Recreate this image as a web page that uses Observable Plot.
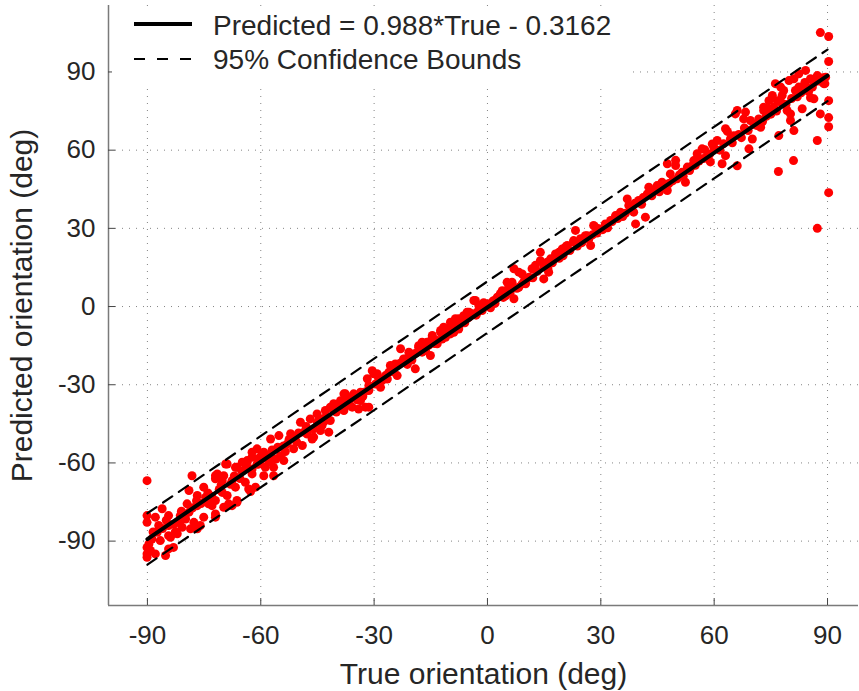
<!DOCTYPE html>
<html>
<head>
<meta charset="utf-8">
<script src="https://cdn.jsdelivr.net/npm/d3@7"></script>
<script src="https://cdn.jsdelivr.net/npm/@observablehq/plot@0.6"></script>
<style>
  html, body { margin: 0; padding: 0; background: #fff; }
  #wrap { position: relative; width: 859px; height: 691px; }
  #legend { position: absolute; left: 112px; top: 9px; }
</style>
</head>
<body>
<div id="wrap"></div>
<script>
// ---- data ----
const xTicks = [-90, -60, -30, 0, 30, 60, 90];
const yTicks = [-90, -60, -30, 0, 30, 60, 90];
const xDomain = [-100.3, 98.2];
const yDomain = [-114.7, 115.5];

const fitX = [-90, 90];
const fitY = [-89.24, 88.60];
const upperBound = [-79.3, 98.6];
const lowerBound = [-99.0, 78.8];

const legendLabels = ["Predicted = 0.988*True - 0.3162", "95% Confidence Bounds"];
const xLabel = "True orientation (deg)";
const yLabel = "Predicted orientation (deg)";

// [true orientation, predicted orientation]
const observations = [
[-90.1,-66.8],[-90.1,-80.2],[-90.1,-82.8],[-87.9,-80.8],[-86.1,-77.6],[-87,-84],[-87.4,-86.6],[-84.4,-80.2],[-84.4,-84],[-84.4,-87.9],
[-82.1,-87.2],[-81.3,-80.2],[-81.7,-82.9],[-86.6,-89.8],[-88.8,-89.2],[-89.6,-91.1],[-89.2,-93.6],[-90.1,-96.2],[-87.9,-94.9],[-84.4,-93],
[-85.2,-95.5],[-83.1,-92.4],[-79.5,-75.7],[-78.2,-64.9],[-79,-70.6],[-76.8,-72.5],[-76.8,-76.4],[-75.1,-69.3],[-74.6,-73.2],[-72.9,-76.4],
[-72,-79.6],[-75.1,-80.8],[-76,-84],[-77.7,-82.8],[-79,-78.9],[-79.9,-81.5],[-80.8,-84.7],[-71.5,-64.2],[-72,-66.1],[-69.8,-64.9],
[-70.2,-66.8],[-68.9,-60.4],[-66.7,-61.7],[-64.9,-59.7],[-63.6,-59.1],[-62.3,-62.3],[-67.6,-66.8],[-66.7,-69.3],[-68.9,-72.5],[-70.2,-71.3],
[-72,-74.4],[-69.8,-77],[-67.6,-76.4],[-66.3,-75.1],[-64.1,-67.4],[-62.3,-64.2],[-90.1,-92.4],[-90.1,-94.9],[-72,-64.9],[-69.3,-60.4],
[-66.3,-61.7],[-63.6,-59.7],[-62.3,-55.9],[-63.2,-70],[-66.3,-74.4],[-68.5,-75.7],[-72,-80.8],[-73.8,-75.7],[-76.8,-85.3],[-78.6,-85.3],
[-82.6,-86.4],[-83.9,-88.5],
[-88.5,-86.5],[-86,-85.2],[-85,-82],[-83,-83.5],[-81,-78.5],[-80,-79.8],[-78,-77.2],[-77,-74.5],[-75.8,-75.6],[-74,-71.5],
[-73,-72.8],[-71,-70.2],[-70.5,-68.5],[-68,-68.2],[-67,-65],[-65.5,-66],[-65,-63.2],[-64,-62],[-61,-60.5],[-60.5,-58.2],
[-61,-54.6],[-59.2,-55.9],[-62.3,-57.8],[-60.5,-60.4],[-58.8,-61.7],[-59.2,-64.9],[-56.6,-61.7],[-57.4,-50.8],[-55.2,-49.5],[-54.8,-57.2],
[-53,-52.7],[-52.1,-48.8],[-51.3,-54.6],[-49,-53.3],[-49.5,-44.4],[-48.6,-48.2],[-46.4,-50.8],[-46,-46.9],[-45.1,-41.2],[-43.8,-45.7],
[-42,-48.2],[-41.6,-43.7],[-40.7,-39.9],[-38.9,-36.1],[-37.6,-33.5],[-36.3,-38],[-35.4,-33.5],[-33.6,-36.1],[-32.7,-32.9],[-31.4,-31.6],
[-31.8,-27.7],[-34.1,-39.3],[-38,-39.9],[-42.9,-39.9],[-46.9,-43.1],[-53.9,-59.1],[-56.6,-64.9],[-61.4,-69.3],[-62.7,-71],
[-47.7,-48.9],[-46,-50.1],[-44.2,-47.6],[-42.9,-42.5],[-41.6,-38.6],[-40.7,-37.3],[-39.8,-39.3],[-38,-33.5],[-37.1,-36.1],[-35.8,-38.6],
[-34.9,-34.2],[-33.6,-32.9],[-32.3,-38.6],
[-58,-57.5],[-57,-55],[-56,-58.5],[-55.5,-54],[-54,-53.5],[-53.5,-55.6],[-52.5,-51],[-51,-50.5],[-50.5,-52],[-50,-48.5],
[-48,-46],[-47.5,-47.5],[-45,-44.5],[-44.5,-43],[-43.3,-44.2],[-40,-40.5],[-39.2,-38],[-37,-37.5],[-36,-35],[-34.5,-35.8],
[-33,-34.5],[-60,-59],[-59.8,-57],[-57.8,-59.6],
[-30.5,-24.6],[-29.2,-25.8],[-31.4,-32.2],[-29.6,-29.7],[-27.9,-28.4],[-27,-26.5],[-25.7,-22.6],[-24.4,-22],[-23.9,-26.5],[-23,-16.2],
[-21.7,-20.1],[-20.8,-17.5],[-19.1,-23.9],[-18.2,-15],[-17.3,-17.5],[-16,-13.7],[-15.1,-18.8],[-14.6,-11.8],[-13.3,-14.3],[-12.4,-9.2],
[-11.1,-11.8],[-9.8,-6],[-8.9,-9.9],[-7.6,-4.7],[-6.3,-3.5],[-5.4,-2.2],[-4,-2.8],[-3.2,2.3],[-1.9,0.4],[-1.4,-1.5],
[-31.4,-38.6],[-31.4,-30.3],[-30.1,-25.8],[-28.3,-31],[-27,-27.1],[-26.1,-25.2],[-24.8,-23.3],[-23.5,-22],[-22.2,-20.1],[-20.8,-19.5],
[-19.5,-18.2],[-18.2,-15.6],[-17.3,-13.7],[-16.4,-16.9],[-14.6,-11.1],[-13.3,-13],[-12.4,-9.9],[-11.6,-7.9],[-9.8,-10.5],[-8.5,-4.7],
[-7.6,-8.6],[-4.9,-2.2],[-3.6,2.3],[-2.3,0.4],
[-28.8,-27.5],[-26.5,-27.8],[-25,-25],[-22.8,-21.5],[-21.2,-22.2],[-20,-20.5],[-18.8,-17.8],[-16.8,-15.8],[-15.6,-14.9],[-14,-14.2],
[-12,-12.5],[-10.5,-9.5],[-10,-8.2],[-8,-7.5],[-7,-6.5],[-6,-6.2],[-5,-4.2],[-3,-3.3],[-2.6,-2],
[-1,1.5],[-0.1,1],[1.7,2.3],[2.6,3.6],[3.9,6.1],[5.2,9.3],[6.5,9.3],[7,14.5],[7,3],[8.3,7.4],
[9.2,12.5],[10.1,8.7],[12.3,14.5],[12.7,15.8],[14,20.8],[14.9,10.6],[15.8,17],[16.2,13.2],[18,20.2],[18.9,20.8],
[19.8,22.1],[21.1,23.4],[22.8,24.7],[23.3,29.2],[24.6,26],[25.9,27.2],[27.3,23.4],[28.1,31.1],[29.5,29.8],
[0.3,0.6],[1.2,1.7],[3.4,4.9],[4.8,4.1],[5.6,7.4],[8.3,13.2],[9.2,8.7],[10.5,10.6],[11.8,14.5],[14,17.6],
[16.7,18.3],[20.6,22.8],[22.8,25.3],[26.4,27.2],[28.6,30.4],
[0.8,-0.5],[2,1.2],[4.2,3.5],[6,5.2],[7.8,7],[9.8,10],[11,11.2],[12,11],[13.2,13.5],[15,15.2],
[16,14.5],[17.2,16.8],[19,18.5],[20,19.5],[21.8,21.5],[23.8,23.2],[25,24.5],[26.8,25.8],[27.8,27.5],[29,28.2],
[31.2,31.7],[32.6,33],[33.9,34.9],[35.2,36.2],[37,41.3],[37.4,38.8],[39.2,31.7],[38.7,36.2],[40,40.7],[41.8,34.3],
[42.3,43.2],[42.7,45.8],[44.9,46.4],[46.2,47.7],[47.6,44.5],[48.4,50.9],[49.8,54.1],[50.2,49],[51.5,51.5],[52.4,47.7],
[52.9,53.5],[54.6,56],[55.5,58.6],[56.8,60.5],[58.2,57.3],[59.5,62.4],[47.6,54.8],[49.8,56.1],
[30.5,29.5],[31.8,30.2],[33,32.6],[34.5,33.8],[35.8,34.5],[36.5,35.8],[38,37.5],[39,39.6],[40.8,39.2],[41.2,41.8],
[43.5,42.5],[44,44.2],[45.5,44],[46.8,46],[48,47.2],[49,48.2],[50.8,50.5],[51.8,50],[53.5,52.2],[54,53.8],
[55,54.2],[56,55.8],[57.2,56.8],[58.8,58.5],[59,55.5],[57.5,60.2],
[59.9,61.1],[60.8,63.7],[63,68.2],[63.5,67.2],[64.3,64.3],[63,57.9],[62.1,54.8],[66.1,54],[65.6,73.9],[66.1,75.2],
[68.3,74.6],[67.8,72],[69.6,71.4],[70.1,64.3],[69.2,60.5],[72.3,68.8],[73.1,75.2],[73.1,76.5],[74.5,79],[75.4,81],
[76.2,85.5],[77.6,84.2],[78.4,82.9],[79.8,86.7],[81.1,87.4],[82.4,89.3],[84.2,90.6],[85.5,87.4],[87.3,88.6],[89,85.5],
[86.4,79.7],[85.5,80.1],[83.3,75.9],[80.2,73.9],[80.2,71.4],[81.1,67.5],[77.1,65.6],[74,76],[76.7,79],[78,81],
[79.3,75.2],[81.5,82.9],[82.4,84.2],[84.6,84.2],[86,84.2],[88.1,73.9],[89.3,85.5],[87.3,63.7],
[88.1,105.1],[90.3,103.6],[90.3,94],[90.3,79],[90.3,72.5],[90.3,69],[90.3,43.7],[87.3,30],[81,56],[77,51.8],
[61.5,60],[62.5,62.5],[64.8,62.8],[65.2,65.5],[66.5,66],[67.2,64.8],[68,68.5],[69,67.5],[70.5,70],[71.2,69.5],
[71.8,72],[72.8,71],[73.8,73],[75,73.8],[75.8,76.5],[76.5,75],[77.8,78.2],[79,77.5],[80.5,79.8],[82,80.5],
[83,82],[84,86],[85,82.5],[86.5,86],[87.8,86.5],[88.8,87.8],[89.5,88]
];

// ---- chart ----
const fmt = d => (d < 0 ? "-" + Math.abs(d) : String(d));
const fitLine = fitX.map((x, i) => ({x, y: fitY[i]}));
const upLine = fitX.map((x, i) => ({x, y: upperBound[i]}));
const loLine = fitX.map((x, i) => ({x, y: lowerBound[i]}));
const textColor = "#262626";
const axisColor = "#7a7a7a";

const chart = Plot.plot({
  width: 859,
  height: 691,
  marginLeft: 108,
  marginRight: 1,
  marginTop: 5,
  marginBottom: 86,
  x: {domain: xDomain, labelArrow: "none"},
  y: {domain: yDomain, labelArrow: "none"},
  style: {fontFamily: "'Liberation Sans', Arial, Helvetica, sans-serif", color: textColor, background: "#fff"},
  marks: [
    Plot.gridX(xTicks, {stroke: "#6e6e6e", strokeOpacity: 0.85, strokeWidth: 1, strokeDasharray: "1,6"}),
    Plot.gridY(yTicks, {stroke: "#6e6e6e", strokeOpacity: 0.85, strokeWidth: 1, strokeDasharray: "1,6"}),
    Plot.dot(observations, {x: d => d[0], y: d => d[1], r: 4.5, fill: "#ff0000", stroke: "none"}),
    Plot.line(upLine, {x: "x", y: "y", stroke: "#000", strokeWidth: 2.2, strokeDasharray: "11,8"}),
    Plot.line(loLine, {x: "x", y: "y", stroke: "#000", strokeWidth: 2.2, strokeDasharray: "11,8"}),
    Plot.line(fitLine, {x: "x", y: "y", stroke: "#000", strokeWidth: 4}),
    Plot.ruleX([xDomain[0]], {stroke: axisColor, strokeWidth: 1.5}),
    Plot.ruleY([yDomain[0]], {stroke: axisColor, strokeWidth: 1.5}),
    Plot.axisY({ticks: yTicks, anchor: "left", tickSize: 7, dx: 7, tickFormat: () => "", label: null, stroke: "#444"}),
    Plot.axisX({ticks: xTicks, anchor: "bottom", tickSize: 7, dy: -7, tickFormat: () => "", label: null, stroke: "#444"}),
    Plot.axisY({ticks: yTicks, anchor: "left", tickSize: 0, tickPadding: 13, fontSize: 26, tickFormat: fmt, label: null, fill: textColor}),
    Plot.axisX({ticks: xTicks, anchor: "bottom", tickSize: 0, tickPadding: 20, fontSize: 26, tickFormat: fmt, label: null, fill: textColor}),
    Plot.axisX({ticks: [], anchor: "bottom", tickSize: 0, label: xLabel, labelArrow: "none", labelAnchor: "center", labelOffset: 78, fontSize: 30, fill: textColor}),
    Plot.axisY({ticks: [], anchor: "left", tickSize: 0, label: yLabel, labelArrow: "none", labelAnchor: "center", labelOffset: 98, fontSize: 30, fill: textColor})
  ]
});

const wrap = document.getElementById("wrap");
wrap.appendChild(chart);

// legend overlay (white box covering grid like the original)
const ns = "http://www.w3.org/2000/svg";
const leg = document.createElementNS(ns, "svg");
leg.setAttribute("id", "legend");
leg.setAttribute("width", 516);
leg.setAttribute("height", 78);
leg.innerHTML = `
  <rect x="0" y="0" width="516" height="78" fill="#fff"/>
  <line x1="22" x2="80" y1="15" y2="15" stroke="#000" stroke-width="4"/>
  <line x1="22" x2="80" y1="50" y2="50" stroke="#000" stroke-width="2" stroke-dasharray="11,12"/>
  <text x="101" y="26" font-size="28" fill="${textColor}" font-family="'Liberation Sans', Arial, sans-serif">${legendLabels[0]}</text>
  <text x="101" y="60" font-size="28" fill="${textColor}" font-family="'Liberation Sans', Arial, sans-serif">${legendLabels[1]}</text>`;
wrap.appendChild(leg);
</script>
</body>
</html>
